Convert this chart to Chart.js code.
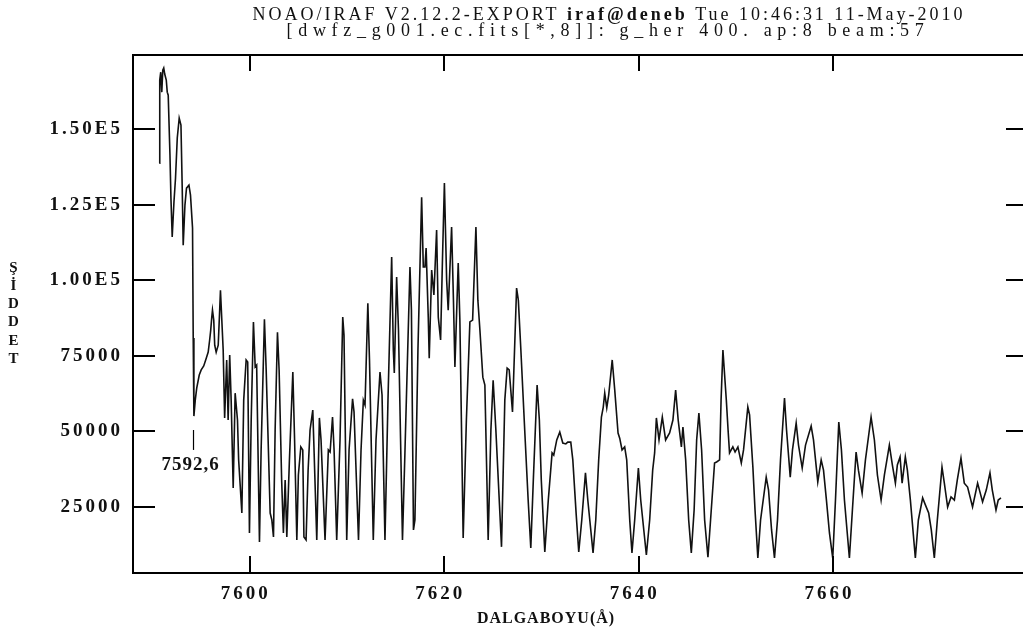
<!DOCTYPE html>
<html lang="tr">
<head>
<meta charset="UTF-8">
<title>g_her 400 - ap:8 beam:57</title>
<script src="https://cdn.jsdelivr.net/npm/chart.js"></script>
<style>
  html, body { margin: 0; padding: 0; background: #fff; overflow: hidden; }
  .wrap { width: 1023px; height: 630px; overflow: hidden; }
  canvas { display: block; }
</style>
</head>
<body>
<div class="wrap"><canvas id="spectrum" width="1040" height="630"></canvas></div>
<script>
// wavelength (Å) and intensity
const wavelength = [
  7590.70, 7590.75, 7590.85, 7590.96, 7591.06, 7591.16, 7591.26, 7591.42, 7591.52, 7591.62,
  7591.80, 7591.90, 7592.03, 7592.21, 7592.37, 7592.55, 7592.75, 7592.93, 7593.06, 7593.16,
  7593.34, 7593.50, 7593.75, 7593.91, 7594.12, 7594.19, 7594.26,
  7594.40, 7594.55, 7594.81, 7595.01, 7595.27, 7595.53, 7595.73, 7595.88, 7595.99, 7596.09,
  7596.17, 7596.30, 7596.40, 7596.55, 7596.76, 7596.91, 7596.99, 7597.12, 7597.27, 7597.42,
  7597.63, 7597.78, 7597.94, 7598.09, 7598.30, 7598.50, 7598.74, 7598.86, 7599.19, 7599.38,
  7599.63, 7599.79, 7599.97, 7600.15, 7600.38, 7600.56, 7600.71, 7601.00, 7601.17, 7601.51,
  7601.69, 7602.10, 7602.27, 7602.44, 7602.61, 7602.85, 7603.02, 7603.28, 7603.46, 7603.64,
  7603.81, 7604.08, 7604.43, 7604.61, 7604.84, 7605.00, 7605.25, 7605.45, 7605.57, 7605.79,
  7606.00, 7606.20, 7606.48, 7606.61, 7606.89, 7607.16, 7607.33, 7607.74, 7608.08, 7608.26,
  7608.51, 7608.67, 7608.94, 7609.28, 7609.56, 7609.69, 7609.97, 7610.21, 7610.57, 7610.72,
  7611.18, 7611.44, 7611.68, 7611.85, 7612.14, 7612.31, 7612.70, 7612.98, 7613.39, 7613.60,
  7613.90, 7614.21, 7614.59, 7614.76, 7614.86, 7615.10, 7615.29, 7615.70, 7615.96, 7616.47,
  7616.62, 7616.83, 7616.98, 7617.29, 7617.67, 7617.84, 7618.01, 7618.13, 7618.35, 7618.45,
  7618.70, 7618.93, 7619.21, 7619.38, 7619.62, 7619.81, 7620.01, 7620.24, 7620.40, 7620.75,
  7620.94, 7621.09, 7621.43, 7621.60, 7621.94, 7622.27, 7622.63, 7622.91, 7623.25, 7623.45,
  7623.66, 7623.96, 7624.17, 7624.51, 7624.79, 7625.02, 7625.30, 7625.88, 7626.22, 7626.46,
  7626.67, 7627.01, 7627.43, 7627.61, 7627.87, 7628.28, 7628.62, 7628.89, 7629.15, 7629.54,
  7629.77, 7629.97, 7630.33, 7630.69, 7631.08, 7631.25, 7631.56, 7631.87, 7632.18, 7632.49,
  7632.69, 7633.00, 7633.21, 7633.56, 7633.82, 7634.13, 7634.51, 7634.75, 7635.29, 7635.57,
  7635.87, 7636.15, 7636.34, 7636.49, 7636.70, 7636.90, 7637.26, 7637.52, 7637.86, 7638.03,
  7638.27, 7638.54, 7638.75, 7639.06, 7639.29, 7639.57, 7639.95, 7640.19, 7640.77, 7641.11,
  7641.42, 7641.62, 7641.80, 7642.07, 7642.41, 7642.75, 7643.16, 7643.50, 7643.78, 7644.04,
  7644.37, 7644.53, 7644.81, 7645.12, 7645.39, 7645.68, 7645.94, 7646.17, 7646.45, 7646.76,
  7647.10, 7647.37, 7647.78, 7647.99, 7648.30, 7648.45, 7648.64, 7648.99, 7649.17, 7649.32,
  7649.66, 7649.89, 7650.18, 7650.53, 7650.76, 7651.20, 7651.38, 7651.72, 7651.94, 7652.23,
  7652.51, 7653.09, 7653.33, 7653.64, 7653.94, 7654.25, 7654.56, 7654.97, 7655.18, 7655.56,
  7655.79, 7656.17, 7656.41, 7656.79, 7657.13, 7657.71, 7657.95, 7658.39, 7658.74, 7658.98,
  7659.28, 7659.59, 7659.93, 7660.21, 7660.55, 7660.82, 7661.13, 7661.64, 7661.95, 7662.33,
  7662.57, 7662.95, 7663.29, 7663.87, 7664.21, 7664.52, 7664.90, 7665.24, 7665.75, 7666.06,
  7666.37, 7666.57, 7666.85, 7667.06, 7667.39, 7667.60, 7667.91, 7668.42, 7668.73, 7669.17,
  7669.45, 7669.79, 7670.06, 7670.37, 7670.68, 7671.16, 7671.40, 7671.74, 7672.09, 7672.43,
  7672.73, 7673.11, 7673.45, 7673.79, 7674.30, 7674.82, 7675.33, 7675.71, 7676.09, 7676.33,
  7676.71, 7676.94, 7677.22
];
const intensity = [
  138800, 166300, 168900, 162300, 169600, 170300, 168300, 166300, 162300, 161300,
  141400, 127200, 114300, 125900, 133800, 147100, 153700, 151400, 130500, 111600,
  124900, 130500, 131500, 128200, 117300, 80900, 55000,
  60300, 64300, 68600, 70300, 71600, 74200, 76200, 80200, 83500, 87500,
  90100, 86800, 78500, 76200, 78500, 90100, 96700, 87500, 76900, 54400,
  73600, 53700, 75200, 60300, 31200, 62600, 53700, 40500, 22900, 60300,
  73600, 72900, 16300, 53700, 86200, 71300, 71900, 13300, 43800, 87100,
  70300, 22900, 20600, 15000, 50400, 82800, 70300, 33800, 16300, 33800,
  15000, 40500, 69600, 47100, 14000, 35500, 44800, 43800, 15000, 14000,
  37100, 50400, 57000, 43800, 14000, 54400, 47100, 14000, 43800, 43100,
  54700, 43800, 14000, 47100, 87800, 81800, 14000, 43800, 60700, 56400,
  14000, 43800, 60300, 58700, 92400, 73600, 14000, 47100, 69600, 62000,
  14000, 60300, 107700, 76900, 69300, 101100, 83500, 14000, 43800, 104400,
  90100, 17300, 20600, 76900, 127500, 104400, 104400, 110700, 87800, 74200,
  103400, 95100, 116600, 87800, 80200, 106700, 132200, 100100, 90100, 117600,
  93400, 71300, 105700, 86800, 14600, 53700, 86200, 86800, 117600, 93400,
  83500, 67900, 65300, 14000, 50400, 66900, 50400, 11700, 60300, 70900,
  70300, 56400, 97400, 93400, 76900, 49400, 27200, 11300, 33800, 65300,
  53700, 33800, 10000, 27200, 42800, 42100, 47100, 49700, 46100, 45800,
  46400, 46400, 40500, 22300, 10000, 20600, 36200, 27200, 9700, 20600,
  40500, 54700, 58000, 62600, 57700, 62000, 73600, 63600, 49400, 47700,
  43800, 44800, 40500, 20600, 9700, 20600, 37800, 27200, 9000, 20600,
  37100, 42800, 54400, 47100, 54700, 47100, 49400, 53700, 63600, 53700,
  44800, 51400, 40500, 20600, 9700, 23900, 47100, 56000, 43800, 20600,
  8300, 20600, 39500, 39800, 40500, 60300, 76900, 60300, 50400, 42800,
  44800, 43100, 44800, 39500, 43800, 58000, 55400, 38100, 23900, 8000,
  20600, 34800, 30500, 17300, 8000, 20600, 40500, 61000, 50400, 34800,
  43800, 52700, 45400, 37800, 45400, 51700, 47100, 33200, 40500, 37100,
  27200, 16300, 8000, 27200, 53000, 43800, 27200, 8000, 23900, 43100,
  37100, 29500, 40500, 54700, 47100, 35500, 27200, 35500, 45400, 38800,
  32800, 38800, 41500, 32800, 41500, 37100, 27200, 8000, 20600, 27900,
  25600, 22900, 17300, 8000, 20600, 38100, 32800, 24900, 28200, 27200,
  33800, 41100, 32800, 31500, 24900, 32800, 26600, 30500, 36200, 30500,
  23900, 27200, 27900
];

const xRange = [7588.0, 7680.0];
const yRange = [3040, 174600];
const xTicks = [7600, 7620, 7640, 7660];
const yTicks = [25000, 50000, 75000, 100000, 125000, 150000];
const yTickLabels = ['25000', '50000', '75000', '1.00E5', '1.25E5', '1.50E5'];

const titleLine1 = [['NOAO/IRAF V2.12.2-EXPORT ', 'normal'], ['iraf@deneb', 'bold'], [' Tue 10:46:31 11-May-2010', 'normal']];
const titleLine2 = [['[dwfz_g001.ec.fits[*,8]]: g_her 400. ap:8 beam:57', 'normal']];
const xTitle = 'DALGABOYU(Å)';
const yTitle = ['Ş', 'İ', 'D', 'D', 'E', 'T'];
const markLabel = '7592,6';
const markLine = [7594.22, 43800, 50400];   // wavelength, from, to
const markText = [7593.93, 38800];

const serif = '"Liberation Serif", "Times New Roman", serif';

// draw a line of text stretched to a given width with letter spacing
function spacedLine(ctx, parts, size, cx, baseline, width) {
  ctx.letterSpacing = '0px';
  let natural = 0, count = 0;
  for (const [t, w] of parts) {
    ctx.font = `${w} ${size}px ${serif}`;
    natural += ctx.measureText(t).width;
    count += t.length;
  }
  ctx.letterSpacing = ((width - natural) / count) + 'px';
  ctx.textAlign = 'left';
  let x = cx - width / 2;
  for (const [t, w] of parts) {
    ctx.font = `${w} ${size}px ${serif}`;
    ctx.fillText(t, x, baseline);
    x += ctx.measureText(t).width;
  }
}

const irafFrame = {
  id: 'irafFrame',
  beforeDraw(chart) {
    chart.ctx.letterSpacing = '3px';   // wide IRAF-style tick labels
  },
  afterDraw(chart) {
    const { ctx, chartArea: a, scales: { x, y } } = chart;
    ctx.save();
    ctx.letterSpacing = '0px';
    ctx.strokeStyle = '#000';
    ctx.lineWidth = 2;
    ctx.strokeRect(a.left, a.top, a.right - a.left, a.bottom - a.top);

    // inward tick marks on all four sides
    ctx.beginPath();
    for (const v of xTicks) {
      const px = Math.round(x.getPixelForValue(v));
      ctx.moveTo(px, a.bottom); ctx.lineTo(px, a.bottom - 17);
      ctx.moveTo(px, a.top); ctx.lineTo(px, a.top + 16);
    }
    for (const v of yTicks) {
      const py = Math.round(y.getPixelForValue(v));
      ctx.moveTo(a.left, py); ctx.lineTo(a.left + 22, py);
      ctx.moveTo(a.right, py); ctx.lineTo(a.right - 22, py);
    }
    ctx.stroke();

    // line marker
    ctx.lineWidth = 1.2;
    ctx.beginPath();
    const mx = x.getPixelForValue(markLine[0]);
    ctx.moveTo(mx, y.getPixelForValue(markLine[1]));
    ctx.lineTo(mx, y.getPixelForValue(markLine[2]));
    ctx.stroke();

    ctx.fillStyle = '#111';
    ctx.textAlign = 'center';
    ctx.textBaseline = 'middle';
    ctx.font = `bold 19px ${serif}`;
    ctx.letterSpacing = '1px';
    ctx.fillText(markLabel, x.getPixelForValue(markText[0]), y.getPixelForValue(markText[1]));

    // titles
    ctx.textBaseline = 'alphabetic';
    spacedLine(ctx, titleLine1, 18, 609, 20, 713);
    spacedLine(ctx, titleLine2, 18, 608, 36, 643);

    ctx.textAlign = 'center';
    ctx.letterSpacing = '1px';
    ctx.font = `bold 16px ${serif}`;
    ctx.fillText(xTitle, 546, 623);
    ctx.font = `bold 15px ${serif}`;
    yTitle.forEach((ch, i) => ctx.fillText(ch, 14, 271.5 + i * 18.3));
    ctx.restore();
    ctx.letterSpacing = '0px';
  }
};

const tickFont = { family: serif, size: 19, weight: 'bold' };

new Chart(document.getElementById('spectrum'), {
  type: 'line',
  data: {
    datasets: [{
      data: wavelength.map((w, i) => ({ x: w, y: intensity[i] })),
      borderColor: '#111',
      borderWidth: 1.6,
      pointRadius: 0,
      tension: 0,
      fill: false
    }]
  },
  options: {
    responsive: false,
    animation: false,
    layout: { padding: { top: 55, right: 12, left: 0, bottom: 0 } },
    plugins: { legend: { display: false }, tooltip: { enabled: false } },
    scales: {
      x: {
        type: 'linear',
        min: xRange[0],
        max: xRange[1],
        grid: { display: false, drawTicks: false },
        border: { display: false },
        afterBuildTicks: s => { s.ticks = xTicks.map(v => ({ value: v })); },
        afterFit: s => { s.height = 57; },
        ticks: { color: '#111', font: tickFont, padding: 10, labelOffset: -4, maxRotation: 0, callback: v => String(v) }
      },
      y: {
        min: yRange[0],
        max: yRange[1],
        grid: { display: false, drawTicks: false },
        border: { display: false },
        afterBuildTicks: s => { s.ticks = yTicks.map(v => ({ value: v })); },
        afterFit: s => { s.width = 133; },
        ticks: { color: '#111', font: tickFont, padding: 10, callback: v => yTickLabels[yTicks.indexOf(v)] }
      }
    }
  },
  plugins: [irafFrame]
});
</script>
</body>
</html>
